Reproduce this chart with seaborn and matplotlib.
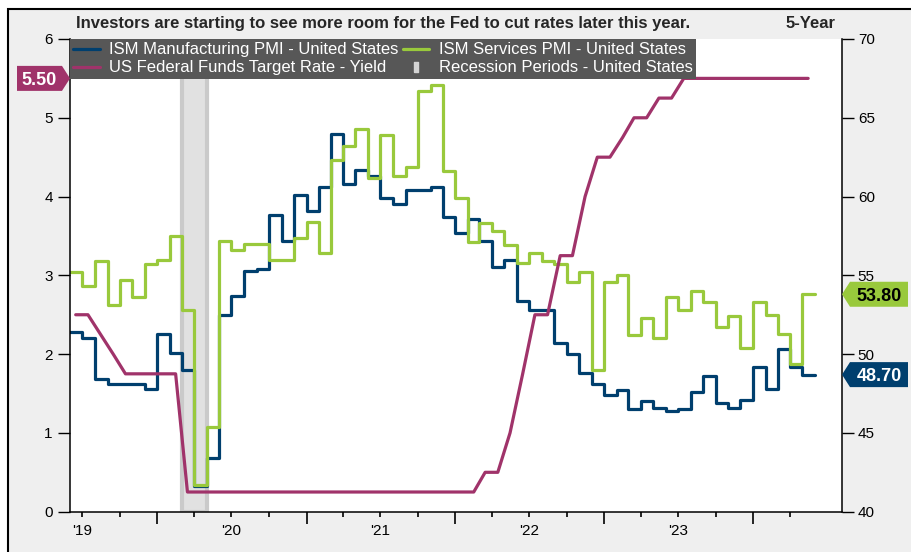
import matplotlib
matplotlib.use("Agg")
import matplotlib.pyplot as plt
import matplotlib.dates as mdates
from matplotlib.ticker import FixedLocator, FuncFormatter, NullFormatter, MultipleLocator
from matplotlib.lines import Line2D
from matplotlib.patches import Polygon, Rectangle
import pandas as pd
import seaborn as sns

# Monthly data, Jun 2019 - May 2024
months = pd.date_range("2019-06-01", "2024-05-01", freq="MS")

ism_mfg = [51.4, 51.0, 48.4, 48.1, 48.1, 48.1, 47.8,
           51.3, 50.1, 49.0, 41.6, 43.4, 52.5, 53.7, 55.3, 55.4, 58.8, 57.2, 60.1,
           59.1, 60.6, 64.0, 60.8, 61.7, 61.3, 59.9, 59.5, 60.4, 60.4, 60.6, 58.7,
           57.7, 58.6, 57.2, 55.5, 56.0, 53.4, 52.8, 52.8, 50.7, 50.0, 48.8, 48.1,
           47.4, 47.7, 46.5, 47.0, 46.6, 46.4, 46.5, 47.6, 48.6, 46.9, 46.6, 47.1,
           49.2, 47.8, 50.3, 49.2, 48.7]

ism_svc = [55.2, 54.3, 55.9, 53.1, 54.7, 53.6, 55.7,
           56.0, 57.5, 52.8, 41.7, 45.4, 57.2, 56.6, 57.0, 57.0, 56.0, 56.0, 57.4,
           58.4, 56.4, 62.3, 63.2, 64.3, 61.2, 63.9, 61.3, 61.9, 66.7, 67.1, 61.6,
           59.9, 57.1, 58.3, 57.8, 56.9, 55.8, 56.4, 55.9, 55.7, 54.6, 55.2, 49.0,
           54.6, 55.0, 51.2, 52.3, 51.0, 53.6, 52.8, 54.0, 53.3, 51.7, 52.4, 50.4,
           53.3, 52.5, 51.3, 49.4, 53.8]

# fed funds target (upper bound), month-end value plotted mid-month
fed_rate = [2.50, 2.50, 2.25, 2.00, 1.75, 1.75, 1.75,
            1.75, 1.75, 0.25, 0.25, 0.25, 0.25, 0.25, 0.25, 0.25, 0.25, 0.25, 0.25,
            0.25, 0.25, 0.25, 0.25, 0.25, 0.25, 0.25, 0.25, 0.25, 0.25, 0.25, 0.25,
            0.25, 0.25, 0.50, 0.50, 1.00, 1.75, 2.50, 2.50, 3.25, 3.25, 4.00, 4.50,
            4.50, 4.75, 5.00, 5.00, 5.25, 5.25, 5.50, 5.50, 5.50, 5.50, 5.50, 5.50,
            5.50, 5.50, 5.50, 5.50, 5.50]

rec_start = ["2020-03-01"]
rec_end = ["2020-05-01"]

title = "Investors are starting to see more room for the Fed to cut rates later this year."
period = "5-Year"
labels = ["ISM Manufacturing PMI - United States",
          "US Federal Funds Target Rate - Yield",
          "ISM Services PMI - United States",
          "Recession Periods - United States"]

NAVY = "#003f6e"
GREEN = "#99c93c"
PLUM = "#a0336a"

pmi = pd.DataFrame({"date": months, "mfg": ism_mfg, "svc": ism_svc})
# repeat the last month so the final step covers the whole month
last = pmi.iloc[[-1]].copy()
last["date"] = months[-1] + pd.offsets.MonthBegin(1)
pmi_steps = pd.concat([pmi, last], ignore_index=True)
fed = pd.DataFrame({"date": months + pd.Timedelta(days=14), "rate": fed_rate})

sns.set_theme(style="white")
plt.rcParams["font.family"] = ["Liberation Sans", "DejaVu Sans"]

W, H = 912, 552
fig = plt.figure(figsize=(W / 100, H / 100), dpi=100, facecolor="white")
fig.add_artist(Rectangle((8 / W, -0.05), 1.1, 1.05 - 9 / H, transform=fig.transFigure,
                         facecolor="#efefef", edgecolor="black", lw=1.5, zorder=-5))

ax = fig.add_axes([70 / W, 40.3 / H, 772 / W, 472.7 / H])
ax2 = ax.twinx()
ax.set_zorder(3)
ax2.set_zorder(2)
ax.patch.set_visible(False)
ax2.patch.set_visible(True)
ax2.patch.set_facecolor("white")

for s, e in zip(rec_start, rec_end):
    ax2.axvspan(pd.Timestamp(s), pd.Timestamp(e), facecolor="#e1e1e1",
                edgecolor="#cacaca", lw=3, zorder=0)

sns.lineplot(data=pmi_steps, x="date", y="mfg", ax=ax2, color=NAVY, lw=2.3,
             drawstyle="steps-post", errorbar=None)
sns.lineplot(data=pmi_steps, x="date", y="svc", ax=ax2, color=GREEN, lw=2.3,
             drawstyle="steps-post", errorbar=None)
sns.lineplot(data=fed, x="date", y="rate", ax=ax, color=PLUM, lw=2.3, errorbar=None)

for a in (ax, ax2):
    a.set_xlabel("")
    a.set_ylabel("")

ax.set_xlim(pd.Timestamp("2019-06-01"), pd.Timestamp("2024-08-06"))
ax.set_ylim(0, 6)
ax2.set_ylim(40, 70)

ax.yaxis.set_major_locator(MultipleLocator(1))
ax2.yaxis.set_major_locator(MultipleLocator(5))
ax.tick_params(axis="y", direction="out", length=8.4, width=1.0, pad=4,
               labelsize=11, left=True, color="black", labelcolor="black")
ax2.tick_params(axis="y", direction="out", length=8.4, width=1.0, pad=3,
                labelsize=11, right=True, color="black", labelcolor="black")

year_starts = pd.date_range("2020-01-01", "2024-01-01", freq="YS")
quarter_ticks = [d for d in pd.date_range("2019-07-01", "2024-04-01", freq="QS") if d.month != 1]
ax.xaxis.set_major_locator(FixedLocator(mdates.date2num(year_starts)))
ax.xaxis.set_major_formatter(NullFormatter())
ax.xaxis.set_minor_locator(FixedLocator(mdates.date2num(quarter_ticks)))


def year_label(v, pos):
    d = mdates.num2date(v)
    return d.strftime("'%y") if d.month == 7 else ""


ax.xaxis.set_minor_formatter(FuncFormatter(year_label))
ax.tick_params(axis="x", which="major", direction="out", length=8.4, width=1.2,
               bottom=True, color="black")
ax.tick_params(axis="x", which="minor", direction="out", length=3.5, width=1.2,
               bottom=True, pad=5, labelsize=11, color="black", labelcolor="black")

for side in ("top", "right"):
    ax.spines[side].set_visible(False)
for side in ("top", "left", "bottom"):
    ax2.spines[side].set_visible(False)
for sp in (ax.spines["left"], ax.spines["bottom"], ax2.spines["right"]):
    sp.set_color("black")
    sp.set_linewidth(1.1)

rec_marker = [(-0.33, -1), (0.33, -1), (0.33, 1), (-0.33, 1), (-0.33, -1)]
handles = [Line2D([0], [0], color=NAVY, lw=2.3),
           Line2D([0], [0], color=PLUM, lw=2.3),
           Line2D([0], [0], color=GREEN, lw=2.3),
           Line2D([0], [0], marker=rec_marker, ms=7.5, ls="none", color="#d4d4d4")]
leg = ax.legend(handles, labels, ncol=2, loc="upper left", bbox_to_anchor=(0, 1),
                borderaxespad=0, frameon=True, fancybox=False, facecolor="#575757",
                edgecolor="#575757", framealpha=1, fontsize=12, labelcolor="white",
                handlelength=1.6, handletextpad=0.55, columnspacing=0.25,
                labelspacing=0.18, borderpad=0.2)
leg.get_frame().set_linewidth(0)

fig.text(76 / W, 1 - 28.3 / H, title, fontsize=12, fontweight="bold",
         ha="left", va="baseline")
fig.text(836 / W, 1 - 28.3 / H, period, fontsize=12, fontweight="bold",
         ha="right", va="baseline")


def value_tag(value, axis, side, color, text_color):
    x0, x1 = ax.bbox.x0, ax.bbox.x1
    y = axis.transData.transform((0, value))[1]
    h = 12.5
    if side == "right":
        pts = [(x1, y), (x1 + 8, y + h), (x1 + 66, y + h), (x1 + 66, y - h), (x1 + 8, y - h)]
        tx = x1 + 37
    else:
        pts = [(x0, y), (x0 - 8, y + h), (x0 - 53, y + h), (x0 - 53, y - h), (x0 - 8, y - h)]
        tx = x0 - 31
    pts = [(px / W, py / H) for px, py in pts]
    fig.add_artist(Polygon(pts, closed=True, transform=fig.transFigure,
                           facecolor=color, edgecolor="none", zorder=5))
    fig.text(tx / W, y / H, f"{value:.2f}", ha="center", va="center_baseline",
             fontsize=13, fontweight="bold", color=text_color, zorder=6)


value_tag(fed_rate[-1], ax, "left", PLUM, "white")
value_tag(ism_svc[-1], ax2, "right", GREEN, "black")
value_tag(ism_mfg[-1], ax2, "right", NAVY, "white")

fig.savefig("out.png", dpi=100)
